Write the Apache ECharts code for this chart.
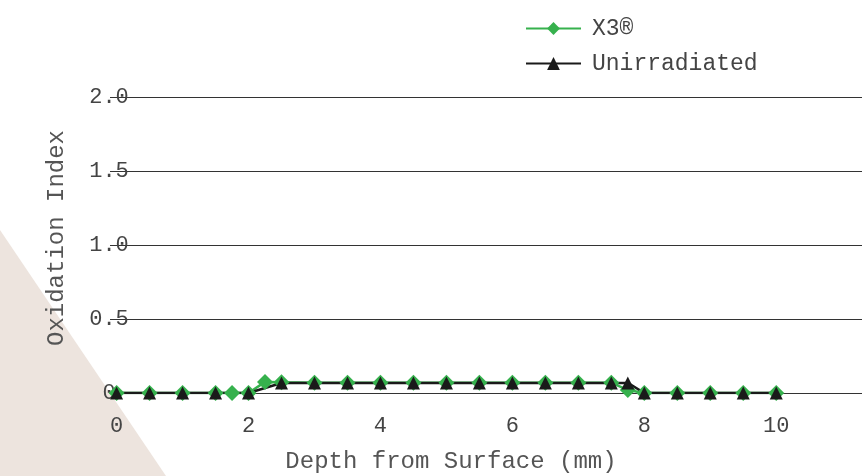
<!DOCTYPE html>
<html>
<head>
<meta charset="utf-8">
<script src="https://cdn.jsdelivr.net/npm/echarts@6/dist/echarts.min.js"></script>
<style>
  html, body { margin: 0; padding: 0; background: #fff; }
  #chart { width: 862px; height: 476px; }
</style>
</head>
<body>
<div id="chart"></div>
<script>
// depth (mm) / oxidation index pairs
const x3Depth = [0, 0.5, 1, 1.5, 1.75, 2, 2.25, 2.5, 3, 3.5, 4, 4.5, 5, 5.5, 6, 6.5, 7, 7.5, 7.75, 8, 8.5, 9, 9.5, 10];
const x3Index = [0, 0, 0, 0, 0, 0, 0.075, 0.072, 0.07, 0.07, 0.07, 0.07, 0.07, 0.07, 0.07, 0.07, 0.07, 0.07, 0.02, 0, 0, 0, 0, 0];
const unirrDepth = [0, 0.5, 1, 1.5, 2, 2.5, 3, 3.5, 4, 4.5, 5, 5.5, 6, 6.5, 7, 7.5, 7.75, 8, 8.5, 9, 9.5, 10];
const unirrIndex = [0, 0, 0, 0, 0, 0.068, 0.068, 0.068, 0.068, 0.068, 0.068, 0.068, 0.068, 0.068, 0.068, 0.068, 0.068, 0, 0, 0, 0, 0];
const xTicks = [0, 2, 4, 6, 8, 10];
const yTicks = ['0', '0.5', '1.0', '1.5', '2.0'];

const mono = '"Liberation Mono", "DejaVu Sans Mono", monospace';
const pairs = (xs, ys) => xs.map((x, i) => [x, ys[i]]);

const chart = echarts.init(document.getElementById('chart'));
chart.setOption({
  animation: false,
  backgroundColor: '#fff',
  textStyle: { fontFamily: mono },
  graphic: [{
    type: 'polygon',
    z: -10,
    silent: true,
    shape: { points: [[0, 230], [166, 476], [0, 476]] },
    style: { fill: '#ede4de' }
  }],
  legend: {
    orient: 'vertical',
    left: 520,
    top: 12,
    itemWidth: 55,
    itemHeight: 16,
    itemGap: 12,
    textStyle: { fontFamily: mono, fontSize: 23, color: '#444', padding: [0, 0, 0, 6] },
    data: ['X3®', 'Unirradiated']
  },
  grid: { left: 110, right: 0, top: 97, bottom: 83, outerBoundsMode: 'none' },
  xAxis: {
    type: 'value',
    min: -0.1,
    max: 11.3,
    name: 'Depth from Surface (mm)',
    nameLocation: 'middle',
    nameGap: 57,
    nameMoveOverlap: false,
    nameTextStyle: { fontFamily: mono, fontSize: 24, color: '#555', padding: [0, 70, 0, 0] },
    axisLine: { show: true, onZero: false, lineStyle: { color: '#333', width: 1 } },
    axisTick: { show: false },
    splitLine: { show: false },
    axisLabel: {
      fontFamily: mono, fontSize: 22, color: '#444', margin: 22,
      customValues: xTicks
    }
  },
  yAxis: {
    type: 'value',
    min: 0,
    max: 2,
    interval: 0.5,
    name: 'Oxidation Index',
    nameLocation: 'middle',
    nameGap: 41,
    nameMoveOverlap: false,
    nameTextStyle: { fontFamily: mono, fontSize: 24, color: '#555', padding: [0, 0, 0, 14] },
    axisLine: { show: false },
    axisTick: { show: false },
    splitLine: { show: true, lineStyle: { color: '#333', width: 1 } },
    axisLabel: {
      fontFamily: mono, fontSize: 22, color: '#444', margin: 1, align: 'center',
      formatter: v => yTicks[Math.round(v / 0.5)]
    }
  },
  series: [
    {
      name: 'X3®',
      type: 'line',
      data: pairs(x3Depth, x3Index),
      symbol: 'diamond',
      symbolSize: 16,
      itemStyle: { color: '#36b14d' },
      lineStyle: { color: '#36b14d', width: 2.5 }
    },
    {
      name: 'Unirradiated',
      type: 'line',
      data: pairs(unirrDepth, unirrIndex),
      symbol: 'triangle',
      symbolSize: 13,
      itemStyle: { color: '#1a1a1a' },
      lineStyle: { color: '#1a1a1a', width: 2.5 }
    }
  ]
});
</script>
</body>
</html>
